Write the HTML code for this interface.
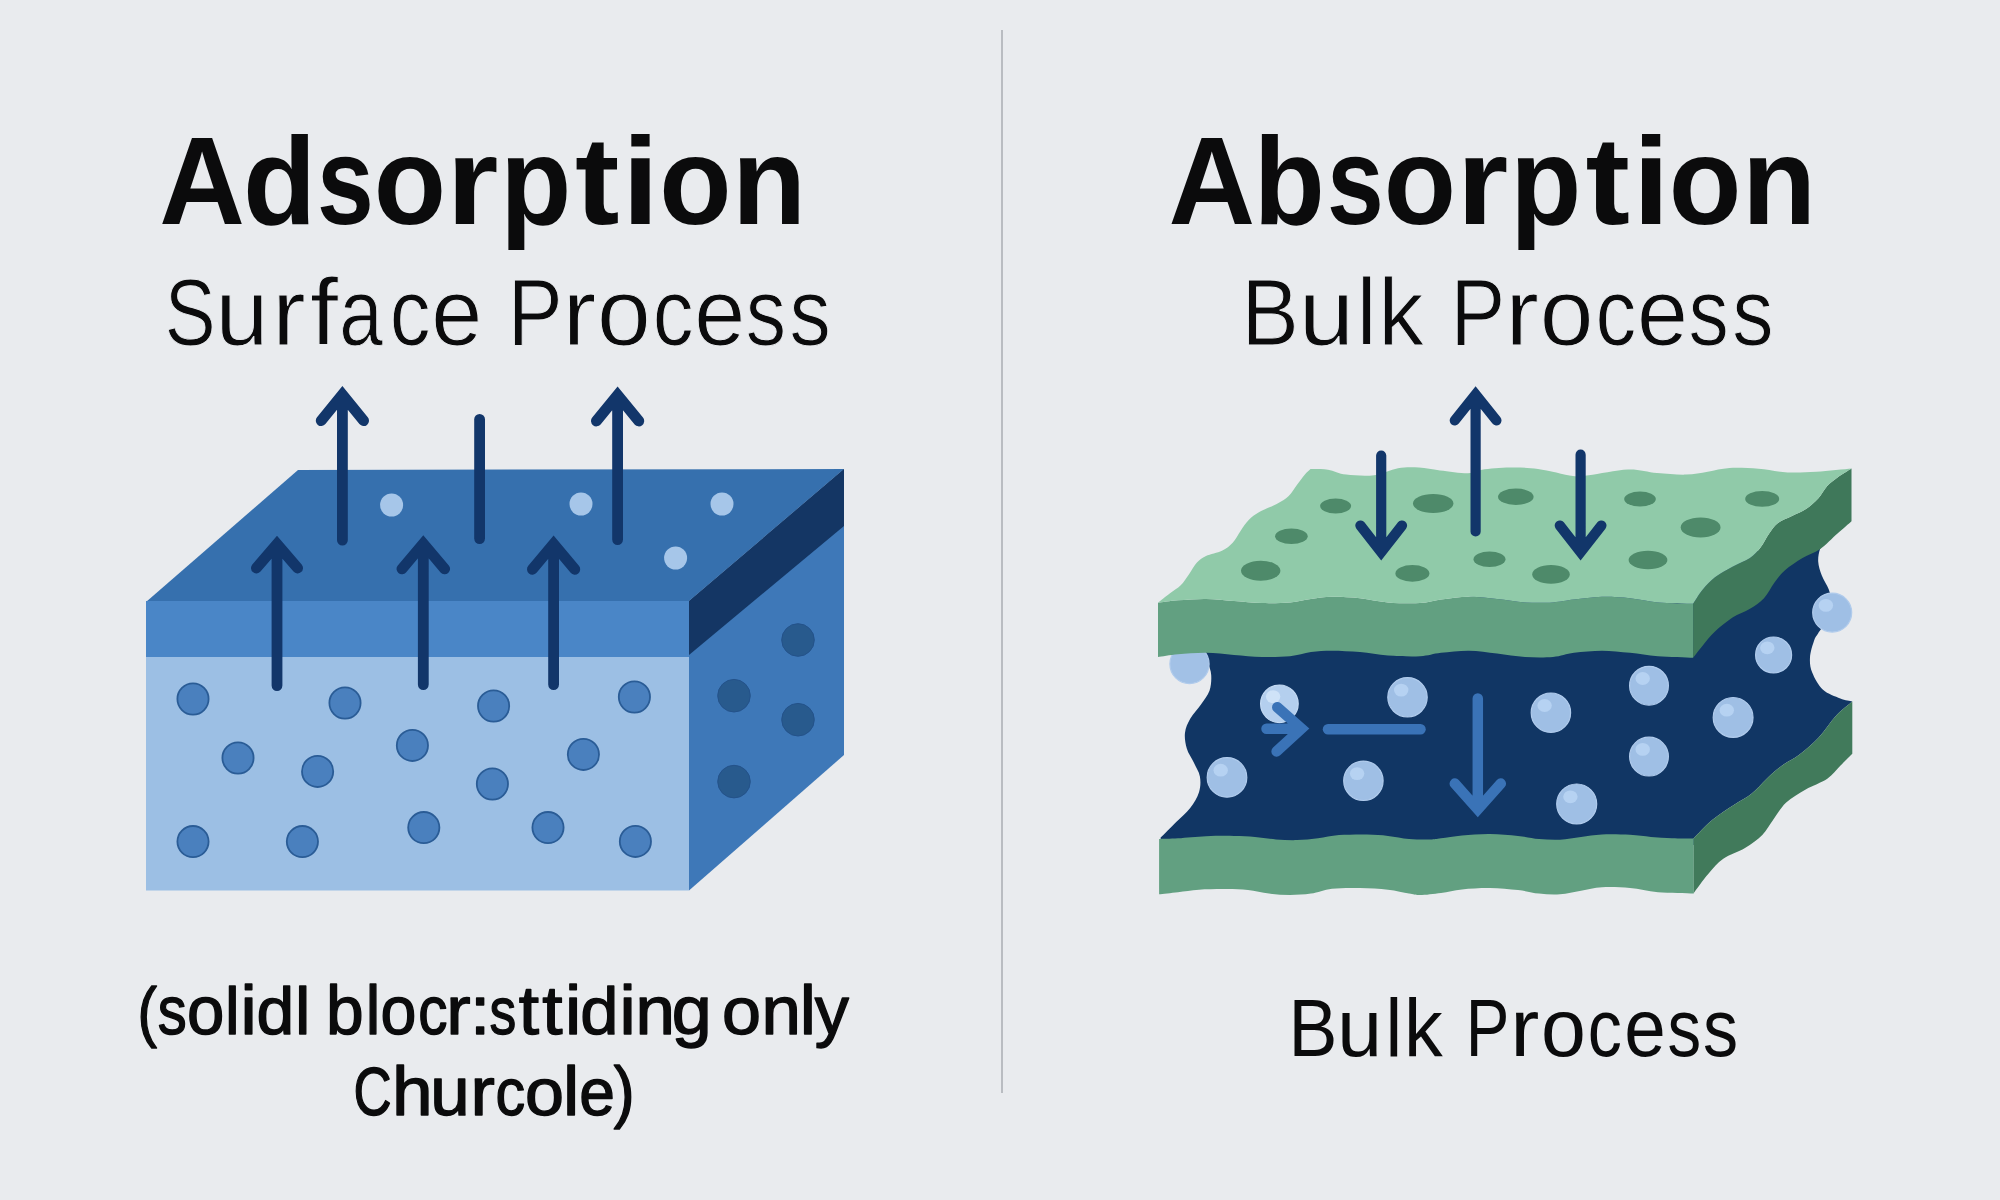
<!DOCTYPE html>
<html><head><meta charset="utf-8"><title>Adsorption vs Absorption</title>
<style>
html,body{margin:0;padding:0;background:#e9ebee;}
body{width:2000px;height:1200px;overflow:hidden;font-family:"Liberation Sans",sans-serif;}
svg{display:block;}
text{font-family:"Liberation Sans",sans-serif;fill:#0b0b0c;}
</style></head>
<body>
<svg width="2000" height="1200" viewBox="0 0 2000 1200">
<rect width="2000" height="1200" fill="#e9ebee"/>
<!-- divider -->
<rect x="1001" y="30" width="2" height="1063" fill="#b9bcc1"/>

<!-- titles -->
<g font-size="123.5" font-weight="bold">
<text transform="translate(159.29,224) scale(0.961,1)">A</text>
<text transform="translate(243.08,224) scale(0.971,1)">d</text>
<text transform="translate(317.01,224) scale(0.827,1)">s</text>
<text transform="translate(373.78,224) scale(0.958,1)">o</text>
<text transform="translate(446.61,224) scale(1.080,1)">r</text>
<text transform="translate(500.33,224) scale(0.942,1)">p</text>
<text transform="translate(575.04,224) scale(1.080,1)">t</text>
<text transform="translate(622.11,224) scale(1.080,1)">i</text>
<text transform="translate(659.13,224) scale(0.958,1)">o</text>
<text transform="translate(731.90,224) scale(0.983,1)">n</text>
<text transform="translate(1168.41,224) scale(0.972,1)">A</text>
<text transform="translate(1253.83,224) scale(0.942,1)">b</text>
<text transform="translate(1327.01,224) scale(0.827,1)">s</text>
<text transform="translate(1383.78,224) scale(0.958,1)">o</text>
<text transform="translate(1456.67,224) scale(1.072,1)">r</text>
<text transform="translate(1510.33,224) scale(0.942,1)">p</text>
<text transform="translate(1585.49,224) scale(1.080,1)">t</text>
<text transform="translate(1632.64,224) scale(1.074,1)">i</text>
<text transform="translate(1668.75,224) scale(0.963,1)">o</text>
<text transform="translate(1741.90,224) scale(0.983,1)">n</text>
</g>
<g font-size="93.7" stroke="#e9ebee" stroke-width="1">
<text transform="translate(164.79,344.6) scale(0.813,1)">S</text>
<text transform="translate(215.42,344.6) scale(1.015,1)">u</text>
<text transform="translate(271.88,344.6) scale(1.080,1)">r</text>
<text transform="translate(310.10,344.6) scale(1.080,1)">f</text>
<text transform="translate(339.17,344.6) scale(0.836,1)">a</text>
<text transform="translate(389.64,344.6) scale(0.870,1)">c</text>
<text transform="translate(431.21,344.6) scale(0.978,1)">e</text>
<text transform="translate(507.64,344.6) scale(0.879,1)">P</text>
<text transform="translate(562.46,344.6) scale(1.080,1)">r</text>
<text transform="translate(596.94,344.6) scale(1.031,1)">o</text>
<text transform="translate(652.64,344.6) scale(0.870,1)">c</text>
<text transform="translate(694.21,344.6) scale(0.978,1)">e</text>
<text transform="translate(745.76,344.6) scale(0.859,1)">s</text>
<text transform="translate(789.45,344.6) scale(0.881,1)">s</text>
<text transform="translate(1241.54,344.6) scale(0.918,1)">B</text>
<text transform="translate(1298.83,344.6) scale(1.063,1)">u</text>
<text transform="translate(1356.57,344.6) scale(0.971,1)">l</text>
<text transform="translate(1378.27,344.6) scale(0.971,1)">k</text>
<text transform="translate(1450.46,344.6) scale(0.876,1)">P</text>
<text transform="translate(1505.26,344.6) scale(1.080,1)">r</text>
<text transform="translate(1539.74,344.6) scale(1.031,1)">o</text>
<text transform="translate(1595.44,344.6) scale(0.870,1)">c</text>
<text transform="translate(1637.01,344.6) scale(0.978,1)">e</text>
<text transform="translate(1688.56,344.6) scale(0.859,1)">s</text>
<text transform="translate(1732.25,344.6) scale(0.881,1)">s</text>
</g>
<g font-size="80.8">
<text transform="translate(1288.59,1055.6) scale(0.907,1)">B</text>
<text transform="translate(1337.37,1055.6) scale(0.996,1)">u</text>
<text transform="translate(1385.54,1055.6) scale(0.929,1)">l</text>
<text transform="translate(1403.98,1055.6) scale(0.958,1)">k</text>
<text transform="translate(1465.64,1055.6) scale(0.809,1)">P</text>
<text transform="translate(1510.17,1055.6) scale(1.080,1)">r</text>
<text transform="translate(1541.01,1055.6) scale(0.999,1)">o</text>
<text transform="translate(1587.70,1055.6) scale(0.844,1)">c</text>
<text transform="translate(1624.33,1055.6) scale(0.923,1)">e</text>
<text transform="translate(1667.53,1055.6) scale(0.833,1)">s</text>
<text transform="translate(1703.05,1055.6) scale(0.869,1)">s</text>
</g>
<g font-size="67.6" stroke="#0b0b0c" stroke-width="1.4" stroke-linejoin="round">
<text transform="translate(137.47,1034) scale(0.865,1)">(</text>
<text transform="translate(157.69,1034) scale(0.857,1)">s</text>
<text transform="translate(187.08,1034) scale(0.993,1)">o</text>
<text transform="translate(225.05,1034) scale(0.976,1)">l</text>
<text transform="translate(240.41,1034) scale(1.080,1)">i</text>
<text transform="translate(256.55,1034) scale(1.003,1)">d</text>
<text transform="translate(295.02,1034) scale(1.027,1)">l</text>
<text transform="translate(326.09,1034) scale(1.002,1)">b</text>
<text transform="translate(365.69,1034) scale(0.968,1)">l</text>
<text transform="translate(380.39,1034) scale(0.954,1)">o</text>
<text transform="translate(418.31,1034) scale(0.866,1)">c</text>
<text transform="translate(446.13,1034) scale(1.080,1)">r</text>
<text transform="translate(470.11,1034) scale(1.080,1)">:</text>
<text transform="translate(489.51,1034) scale(0.790,1)">s</text>
<text transform="translate(518.87,1034) scale(1.080,1)">t</text>
<text transform="translate(542.27,1034) scale(1.080,1)">t</text>
<text transform="translate(565.06,1034) scale(1.080,1)">i</text>
<text transform="translate(580.32,1034) scale(1.015,1)">d</text>
<text transform="translate(619.41,1034) scale(1.080,1)">i</text>
<text transform="translate(635.49,1034) scale(1.048,1)">n</text>
<text transform="translate(671.68,1034) scale(1.064,1)">g</text>
<text transform="translate(722.01,1034) scale(1.037,1)">o</text>
<text transform="translate(761.49,1034) scale(1.048,1)">n</text>
<text transform="translate(799.75,1034) scale(1.080,1)">l</text>
<text transform="translate(814.78,1034) scale(1.010,1)">y</text>
<text transform="translate(353.38,1115) scale(0.780,1)">C</text>
<text transform="translate(392.04,1115) scale(1.080,1)">h</text>
<text transform="translate(430.35,1115) scale(1.048,1)">u</text>
<text transform="translate(470.53,1115) scale(1.080,1)">r</text>
<text transform="translate(495.43,1115) scale(0.878,1)">c</text>
<text transform="translate(525.01,1115) scale(1.037,1)">o</text>
<text transform="translate(563.00,1115) scale(1.080,1)">l</text>
<text transform="translate(579.23,1115) scale(0.949,1)">e</text>
<text transform="translate(613.83,1115) scale(0.926,1)">)</text>
</g>

<!-- LEFT BLOCK -->
<g id="leftblock">
<polygon points="146,602 298,470 844,469 689,601" fill="#3670ae"/>
<rect x="146" y="601" width="543" height="56" fill="#4a86c7"/>
<rect x="146" y="657" width="543" height="233.5" fill="#9cbfe4"/>
<polygon points="689,601 844,469 844,755 689,890.5" fill="#3e78b8"/>
<polygon points="689,601 844,469 844,526 689,655" fill="#143664"/>
<circle cx="193" cy="699" r="15.6" fill="#4a80be" stroke="#2a5c96" stroke-width="1.8"/>
<circle cx="345" cy="703" r="15.6" fill="#4a80be" stroke="#2a5c96" stroke-width="1.8"/>
<circle cx="493.6" cy="706" r="15.6" fill="#4a80be" stroke="#2a5c96" stroke-width="1.8"/>
<circle cx="634.4" cy="697" r="15.6" fill="#4a80be" stroke="#2a5c96" stroke-width="1.8"/>
<circle cx="238" cy="758" r="15.6" fill="#4a80be" stroke="#2a5c96" stroke-width="1.8"/>
<circle cx="317.6" cy="771.4" r="15.6" fill="#4a80be" stroke="#2a5c96" stroke-width="1.8"/>
<circle cx="412.4" cy="745.4" r="15.6" fill="#4a80be" stroke="#2a5c96" stroke-width="1.8"/>
<circle cx="583.4" cy="754.4" r="15.6" fill="#4a80be" stroke="#2a5c96" stroke-width="1.8"/>
<circle cx="492.4" cy="784" r="15.6" fill="#4a80be" stroke="#2a5c96" stroke-width="1.8"/>
<circle cx="193" cy="841.6" r="15.6" fill="#4a80be" stroke="#2a5c96" stroke-width="1.8"/>
<circle cx="302.4" cy="841.6" r="15.6" fill="#4a80be" stroke="#2a5c96" stroke-width="1.8"/>
<circle cx="423.8" cy="827.6" r="15.6" fill="#4a80be" stroke="#2a5c96" stroke-width="1.8"/>
<circle cx="548" cy="827.6" r="15.6" fill="#4a80be" stroke="#2a5c96" stroke-width="1.8"/>
<circle cx="635.4" cy="841.4" r="15.6" fill="#4a80be" stroke="#2a5c96" stroke-width="1.8"/>
<circle cx="798" cy="640" r="16.3" fill="#285a8d" stroke="#24528a" stroke-width="1"/>
<circle cx="734" cy="695.7" r="16.3" fill="#285a8d" stroke="#24528a" stroke-width="1"/>
<circle cx="798" cy="719.7" r="16.3" fill="#285a8d" stroke="#24528a" stroke-width="1"/>
<circle cx="734" cy="781.6" r="16.3" fill="#285a8d" stroke="#24528a" stroke-width="1"/>
<circle cx="391.6" cy="505" r="11.5" fill="#a6c6e9"/>
<circle cx="581" cy="504" r="11.5" fill="#a6c6e9"/>
<circle cx="722" cy="504" r="11.5" fill="#a6c6e9"/>
<circle cx="675.6" cy="558" r="11.5" fill="#a6c6e9"/>
<g fill="none" stroke="#12366a" stroke-width="10.8" stroke-linecap="round" stroke-linejoin="miter"><path d="M321.2,420.7 L342.4,394.6 L363.6,420.7 M342.4,396.6 L342.4,540.2"/><path d="M479.6,419.4 L479.6,538.6"/><path d="M256.4,568.0 L277.0,544.1 L297.6,568.0 M277.0,546.1 L277.0,685.6"/><path d="M401.9,568.9 L423.3,543.6 L444.7,568.9 M423.3,545.6 L423.3,684.6"/><path d="M532.4,569.3 L553.6,544.0 L574.8,569.3 M553.6,546.0 L553.6,684.6"/><path d="M596.4,421.0 L617.6,395.0 L638.8,421.0 M617.6,397.0 L617.6,539.6"/></g>
</g>
<g id="rightblock">
<path d="M1202.5,650.0 C1203.4,652.1 1206.3,658.6 1207.8,662.8 C1209.2,666.9 1211.0,670.3 1211.2,675.0 C1211.5,679.7 1211.2,685.8 1209.5,690.8 C1207.8,695.7 1204.0,700.1 1200.8,704.8 C1197.5,709.4 1192.9,714.1 1190.2,718.8 C1187.6,723.4 1185.6,727.8 1185.0,732.8 C1184.4,737.7 1185.3,743.5 1186.8,748.5 C1188.2,753.5 1191.6,757.8 1193.8,762.5 C1195.9,767.2 1199.0,771.5 1199.9,776.5 C1200.8,781.5 1200.6,787.0 1199.0,792.2 C1197.4,797.5 1194.0,803.0 1190.2,808.0 C1186.5,813.0 1181.2,817.0 1176.2,822.0 C1171.3,827.0 1163.1,835.1 1160.5,837.8 L1162,845 L1700,845 L1693.4,838.6 C1696.6,835.5 1705.7,825.4 1712.5,819.8 C1719.3,814.1 1727.7,809.0 1734.2,804.7 C1740.7,800.4 1746.1,798.1 1751.5,793.8 C1756.9,789.5 1761.7,783.4 1766.7,778.7 C1771.8,774.0 1776.4,769.7 1781.8,765.7 C1787.2,761.7 1793.0,759.5 1799.2,754.8 C1805.4,750.1 1812.6,744.0 1818.7,737.5 C1824.8,731.0 1830.4,721.8 1836.0,715.8 C1841.6,709.8 1849.6,703.9 1852.3,701.5 L1852.3,701.5 C1850.3,701.0 1845.2,700.5 1840.3,698.5 C1835.4,696.5 1827.7,694.1 1823.0,689.8 C1818.3,685.5 1814.4,677.9 1812.2,672.5 C1810.0,667.1 1809.7,662.7 1810.0,657.3 C1810.3,651.9 1812.9,644.0 1814.3,640.0 C1815.7,636.0 1816.5,636.2 1818.2,633.2 C1820.0,630.2 1823.0,627.5 1825.0,622.0 C1827.0,616.5 1829.4,605.4 1830.0,600.0 C1830.6,594.6 1830.1,593.6 1828.8,589.5 C1827.4,585.4 1823.5,580.2 1821.8,575.5 C1820.0,570.8 1818.5,565.9 1818.2,561.5 C1818.0,557.1 1818.7,552.8 1820.0,549.2 C1821.3,545.7 1825.0,541.5 1826.0,540.0 L1700,560 L1200,640 Z" fill="#113664"/>
<g><circle cx="1189.5" cy="664" r="19.6" fill="#a2c1e6" stroke="#b0cbec" stroke-width="1.2"/><circle cx="1279.4" cy="703.8" r="18.8" fill="#b4cfee" stroke="#c4daf3" stroke-width="1.2"/><ellipse cx="1273.1000000000001" cy="696.5999999999999" rx="7.2" ry="6.4" fill="#cfe3f8"/><circle cx="1407.5" cy="697.3" r="19.7" fill="#9fbfe5" stroke="#b0cbec" stroke-width="1.2"/><ellipse cx="1401.2" cy="690.0999999999999" rx="7.2" ry="6.4" fill="#b6d2f2"/><circle cx="1227" cy="777.4" r="19.8" fill="#9fbfe5" stroke="#b0cbec" stroke-width="1.2"/><ellipse cx="1220.7" cy="770.1999999999999" rx="7.2" ry="6.4" fill="#b6d2f2"/><circle cx="1363.4" cy="780.8" r="19.7" fill="#9fbfe5" stroke="#b0cbec" stroke-width="1.2"/><ellipse cx="1357.1000000000001" cy="773.5999999999999" rx="7.2" ry="6.4" fill="#b6d2f2"/><circle cx="1550.9" cy="712.7" r="19.7" fill="#9fbfe5" stroke="#b0cbec" stroke-width="1.2"/><ellipse cx="1544.6000000000001" cy="705.5" rx="7.2" ry="6.4" fill="#b6d2f2"/><circle cx="1649" cy="685.7" r="19.4" fill="#9fbfe5" stroke="#b0cbec" stroke-width="1.2"/><ellipse cx="1642.7" cy="678.5" rx="7.2" ry="6.4" fill="#b6d2f2"/><circle cx="1649" cy="756.6" r="19.4" fill="#9fbfe5" stroke="#b0cbec" stroke-width="1.2"/><ellipse cx="1642.7" cy="749.4" rx="7.2" ry="6.4" fill="#b6d2f2"/><circle cx="1576.7" cy="804" r="20.0" fill="#9fbfe5" stroke="#b0cbec" stroke-width="1.2"/><ellipse cx="1570.4" cy="796.8" rx="7.2" ry="6.4" fill="#b6d2f2"/><circle cx="1733.1" cy="717.4" r="19.9" fill="#9fbfe5" stroke="#b0cbec" stroke-width="1.2"/><ellipse cx="1726.8" cy="710.1999999999999" rx="7.2" ry="6.4" fill="#b6d2f2"/><circle cx="1773.6" cy="655" r="18.0" fill="#9fbfe5" stroke="#b0cbec" stroke-width="1.2"/><ellipse cx="1767.3" cy="647.8" rx="7.2" ry="6.4" fill="#b6d2f2"/><circle cx="1832.2" cy="612.6" r="19.5" fill="#9fbfe5" stroke="#b0cbec" stroke-width="1.2"/><ellipse cx="1825.9" cy="605.4" rx="7.2" ry="6.4" fill="#b6d2f2"/></g>
<path d="M1851.5,468.5 C1849.2,470.0 1841.6,474.5 1837.5,477.5 C1833.4,480.5 1830.2,482.8 1827.0,486.2 C1823.8,489.8 1821.8,494.7 1818.2,498.5 C1814.8,502.3 1810.4,506.1 1806.0,509.0 C1801.6,511.9 1796.7,513.7 1792.0,516.0 C1787.3,518.3 1781.8,520.1 1778.0,523.0 C1774.2,525.9 1772.2,529.4 1769.2,533.5 C1766.3,537.6 1763.7,543.4 1760.5,547.5 C1757.3,551.6 1754.7,554.8 1750.0,558.0 C1745.3,561.2 1738.3,563.5 1732.5,566.8 C1726.7,570.0 1720.0,573.5 1715.0,577.2 C1710.0,581.0 1706.4,585.1 1702.8,589.5 C1699.1,593.9 1694.7,601.4 1693.1,603.8 L1693.1,657.8 L1693.1,657.8 C1694.7,655.8 1699.1,649.9 1702.8,645.5 C1706.4,641.1 1710.0,636.2 1715.0,631.5 C1720.0,626.8 1726.7,621.3 1732.5,617.5 C1738.3,613.7 1744.8,612.0 1750.0,608.8 C1755.2,605.5 1759.9,602.6 1764.0,598.2 C1768.1,593.9 1771.0,587.2 1774.5,582.5 C1778.0,577.8 1780.3,574.3 1785.0,570.2 C1789.7,566.2 1796.7,561.5 1802.5,558.0 C1808.3,554.5 1814.2,553.3 1820.0,549.2 C1825.8,545.2 1832.2,538.2 1837.5,533.5 C1842.8,528.8 1849.2,523.3 1851.5,521.2 Z" fill="#3f785a"/>
<path d="M1158.0,602.8 C1161.3,602.4 1170.0,600.9 1178.0,600.3 C1186.0,599.6 1196.7,598.8 1206.0,598.9 C1215.3,599.0 1224.7,600.3 1234.0,601.0 C1243.3,601.7 1252.7,602.9 1262.0,603.1 C1271.3,603.3 1281.8,603.1 1290.0,602.4 C1298.2,601.7 1304.0,599.8 1311.0,598.9 C1318.0,598.0 1323.8,596.9 1332.0,596.8 C1340.2,596.7 1350.7,597.3 1360.0,598.2 C1369.3,599.1 1378.0,601.6 1388.0,602.4 C1398.0,603.2 1411.2,603.6 1420.0,603.1 C1428.8,602.6 1432.8,600.7 1441.0,599.6 C1449.2,598.5 1459.7,596.9 1469.0,596.8 C1478.3,596.7 1487.7,598.0 1497.0,598.9 C1506.3,599.8 1515.7,601.8 1525.0,602.4 C1534.3,603.0 1544.8,602.9 1553.0,602.4 C1561.2,601.9 1565.8,600.5 1574.0,599.6 C1582.2,598.7 1592.7,597.0 1602.0,596.8 C1611.3,596.6 1620.7,597.3 1630.0,598.2 C1639.3,599.1 1647.5,601.5 1658.0,602.4 C1668.5,603.3 1687.2,603.6 1693.1,603.8 L1693.1,657.8 L1693.1,657.8 C1687.2,657.5 1668.5,657.1 1658.0,656.3 C1647.5,655.5 1639.3,653.7 1630.0,652.8 C1620.7,651.9 1611.3,650.7 1602.0,650.7 C1592.7,650.7 1582.2,651.8 1574.0,652.8 C1565.8,653.8 1561.2,656.3 1553.0,657.0 C1544.8,657.7 1534.3,657.6 1525.0,657.0 C1515.7,656.4 1506.3,654.5 1497.0,653.5 C1487.7,652.5 1478.3,650.8 1469.0,650.7 C1459.7,650.6 1449.2,651.9 1441.0,652.8 C1432.8,653.7 1428.8,655.8 1420.0,656.3 C1411.2,656.8 1398.0,656.3 1388.0,655.6 C1378.0,654.9 1369.3,652.9 1360.0,652.1 C1350.7,651.3 1340.2,650.7 1332.0,650.7 C1323.8,650.7 1318.0,651.2 1311.0,652.1 C1304.0,653.0 1298.2,655.5 1290.0,656.3 C1281.8,657.1 1271.3,657.2 1262.0,657.0 C1252.7,656.8 1243.3,655.6 1234.0,654.9 C1224.7,654.2 1215.3,652.9 1206.0,652.8 C1196.7,652.7 1186.0,653.5 1178.0,654.2 C1170.0,654.9 1161.3,656.5 1158.0,657.0 Z" fill="#62a081"/>
<path d="M1158.0,602.8 C1160.0,601.2 1166.2,596.2 1170.0,593.3 C1173.8,590.4 1177.6,588.4 1180.7,585.3 C1183.8,582.2 1186.0,578.5 1188.7,574.7 C1191.4,570.9 1193.8,565.8 1196.7,562.7 C1199.6,559.6 1201.8,558.0 1206.0,556.0 C1210.2,554.0 1217.5,552.9 1222.0,550.7 C1226.5,548.5 1229.6,546.0 1232.7,542.7 C1235.8,539.4 1238.0,534.5 1240.7,530.7 C1243.4,526.9 1245.6,523.1 1248.7,520.0 C1251.8,516.9 1254.6,514.7 1259.3,512.0 C1264.0,509.3 1271.8,506.7 1276.7,504.0 C1281.6,501.3 1285.4,499.1 1288.7,496.0 C1292.0,492.9 1294.0,488.9 1296.7,485.3 C1299.4,481.8 1302.4,477.4 1304.7,474.7 C1307.0,472.0 1309.5,469.9 1310.5,469.0 L1310.5,469.0 C1313.4,469.1 1322.0,468.8 1328.0,469.7 C1334.0,470.6 1338.5,473.7 1346.2,474.6 C1353.9,475.5 1365.6,476.4 1374.2,475.3 C1382.8,474.2 1390.5,469.6 1398.0,468.3 C1405.5,467.0 1412.0,467.2 1419.0,467.6 C1426.0,468.0 1431.8,469.5 1440.0,470.4 C1448.2,471.3 1461.0,473.3 1468.0,473.2 C1475.0,473.1 1475.0,470.6 1482.0,469.7 C1489.0,468.8 1500.7,467.7 1510.0,467.6 C1519.3,467.5 1527.5,467.6 1538.0,469.0 C1548.5,470.4 1564.5,474.9 1573.0,476.0 C1581.5,477.1 1579.6,476.4 1588.8,475.3 C1598.0,474.2 1616.6,469.9 1628.0,469.5 C1639.4,469.1 1647.3,472.2 1657.0,473.1 C1666.7,474.0 1677.5,474.8 1686.0,474.6 C1694.5,474.4 1700.5,472.8 1707.7,471.7 C1715.0,470.6 1721.0,468.5 1729.5,468.0 C1738.0,467.5 1748.8,468.1 1758.5,468.8 C1768.2,469.5 1777.8,471.9 1787.5,472.4 C1797.2,472.9 1805.8,472.3 1816.5,471.7 C1827.2,471.1 1845.7,469.0 1851.5,468.5 L1851.5,468.5 C1849.2,470.0 1841.6,474.5 1837.5,477.5 C1833.4,480.5 1830.2,482.8 1827.0,486.2 C1823.8,489.8 1821.8,494.7 1818.2,498.5 C1814.8,502.3 1810.4,506.1 1806.0,509.0 C1801.6,511.9 1796.7,513.7 1792.0,516.0 C1787.3,518.3 1781.8,520.1 1778.0,523.0 C1774.2,525.9 1772.2,529.4 1769.2,533.5 C1766.3,537.6 1763.7,543.4 1760.5,547.5 C1757.3,551.6 1754.7,554.8 1750.0,558.0 C1745.3,561.2 1738.3,563.5 1732.5,566.8 C1726.7,570.0 1720.0,573.5 1715.0,577.2 C1710.0,581.0 1706.4,585.1 1702.8,589.5 C1699.1,593.9 1694.7,601.4 1693.1,603.8 L1693.1,603.8 C1687.2,603.6 1668.5,603.3 1658.0,602.4 C1647.5,601.5 1639.3,599.1 1630.0,598.2 C1620.7,597.3 1611.3,596.6 1602.0,596.8 C1592.7,597.0 1582.2,598.7 1574.0,599.6 C1565.8,600.5 1561.2,601.9 1553.0,602.4 C1544.8,602.9 1534.3,603.0 1525.0,602.4 C1515.7,601.8 1506.3,599.8 1497.0,598.9 C1487.7,598.0 1478.3,596.7 1469.0,596.8 C1459.7,596.9 1449.2,598.5 1441.0,599.6 C1432.8,600.7 1428.8,602.6 1420.0,603.1 C1411.2,603.6 1398.0,603.2 1388.0,602.4 C1378.0,601.6 1369.3,599.1 1360.0,598.2 C1350.7,597.3 1340.2,596.7 1332.0,596.8 C1323.8,596.9 1318.0,598.0 1311.0,598.9 C1304.0,599.8 1298.2,601.7 1290.0,602.4 C1281.8,603.1 1271.3,603.3 1262.0,603.1 C1252.7,602.9 1243.3,601.7 1234.0,601.0 C1224.7,600.3 1215.3,599.0 1206.0,598.9 C1196.7,598.8 1186.0,599.6 1178.0,600.3 C1170.0,600.9 1161.3,602.4 1158.0,602.8 Z" fill="#90caa9"/>
<g fill="#4e8a6a"><ellipse cx="1335.6" cy="506" rx="15.5" ry="7.6"/><ellipse cx="1291.4" cy="536.3" rx="16.3" ry="7.8"/><ellipse cx="1260.7" cy="570.7" rx="19.7" ry="10"/><ellipse cx="1433.2" cy="503.5" rx="20.2" ry="9.5"/><ellipse cx="1515.8" cy="496.8" rx="17.8" ry="8.2"/><ellipse cx="1412.4" cy="573.4" rx="17" ry="8.3"/><ellipse cx="1489.5" cy="559.3" rx="16" ry="7.8"/><ellipse cx="1551" cy="574.4" rx="18.8" ry="9.3"/><ellipse cx="1640" cy="499" rx="15.8" ry="7.6"/><ellipse cx="1700.6" cy="527.4" rx="19.9" ry="10"/><ellipse cx="1648" cy="560" rx="19.4" ry="9.2"/><ellipse cx="1762.2" cy="498.9" rx="17" ry="7.9"/></g>
<path d="M1693.4,838.6 C1696.6,835.5 1705.7,825.4 1712.5,819.8 C1719.3,814.1 1727.7,809.0 1734.2,804.7 C1740.7,800.4 1746.1,798.1 1751.5,793.8 C1756.9,789.5 1761.7,783.4 1766.7,778.7 C1771.8,774.0 1776.4,769.7 1781.8,765.7 C1787.2,761.7 1793.0,759.5 1799.2,754.8 C1805.4,750.1 1812.6,744.0 1818.7,737.5 C1824.8,731.0 1830.4,721.8 1836.0,715.8 C1841.6,709.8 1849.6,703.9 1852.3,701.5 L1852.3,753.75 L1852.3,753.8 C1850.3,755.7 1844.5,761.5 1840.3,765.7 C1836.1,769.9 1833.1,774.7 1827.3,778.7 C1821.5,782.7 1812.5,785.5 1805.7,789.5 C1798.9,793.5 1791.6,797.5 1786.2,802.5 C1780.8,807.5 1777.2,814.4 1773.2,819.8 C1769.2,825.2 1767.0,830.3 1762.3,835.0 C1757.6,839.7 1751.5,844.0 1745.0,848.0 C1738.5,852.0 1729.4,854.5 1723.3,858.8 C1717.2,863.1 1713.2,868.2 1708.2,874.0 C1703.2,879.8 1695.9,890.2 1693.4,893.4 Z" fill="#417a5b"/>
<path d="M1159.1,839.0 C1162.2,838.9 1170.2,838.8 1178.0,838.3 C1185.8,837.8 1196.7,836.6 1206.0,836.2 C1215.3,835.8 1225.8,835.8 1234.0,835.9 C1242.2,836.0 1248.0,836.3 1255.0,836.9 C1262.0,837.5 1269.0,838.9 1276.0,839.4 C1283.0,839.9 1290.0,840.3 1297.0,840.1 C1304.0,839.9 1311.0,839.1 1318.0,838.3 C1325.0,837.5 1330.8,835.7 1339.0,835.1 C1347.2,834.5 1358.8,834.4 1367.0,834.5 C1375.2,834.6 1381.0,835.1 1388.0,835.9 C1395.0,836.6 1402.0,838.4 1409.0,839.0 C1416.0,839.6 1424.7,839.6 1430.0,839.5 C1435.3,839.4 1435.7,839.0 1441.0,838.3 C1446.3,837.6 1453.8,836.2 1462.0,835.5 C1470.2,834.8 1480.7,834.0 1490.0,834.1 C1499.3,834.2 1509.8,835.1 1518.0,835.9 C1526.2,836.7 1532.0,838.4 1539.0,839.0 C1546.0,839.6 1553.0,840.1 1560.0,839.7 C1567.0,839.4 1574.0,837.8 1581.0,836.9 C1588.0,836.0 1593.8,834.9 1602.0,834.5 C1610.2,834.1 1621.8,834.4 1630.0,834.8 C1638.2,835.2 1644.0,836.3 1651.0,836.9 C1658.0,837.5 1664.9,838.0 1672.0,838.3 C1679.1,838.6 1690.0,838.5 1693.6,838.6 L1693.6,893.4 C1687.7,893.2 1668.6,893.1 1658.0,892.2 C1647.4,891.3 1639.3,888.8 1630.0,888.0 C1620.7,887.2 1610.2,886.8 1602.0,887.3 C1593.8,887.8 1588.0,889.6 1581.0,890.8 C1574.0,892.0 1567.0,893.8 1560.0,894.3 C1553.0,894.8 1546.0,894.3 1539.0,893.6 C1532.0,892.9 1526.2,891.0 1518.0,890.1 C1509.8,889.2 1499.3,888.1 1490.0,888.0 C1480.7,887.9 1470.2,888.6 1462.0,889.4 C1453.8,890.2 1448.0,892.0 1441.0,892.9 C1434.0,893.8 1425.3,894.9 1420.0,895.0 C1414.7,895.1 1414.3,894.5 1409.0,893.6 C1403.7,892.7 1396.2,890.6 1388.0,889.7 C1379.8,888.8 1369.3,888.2 1360.0,888.0 C1350.7,887.8 1340.2,887.8 1332.0,888.7 C1323.8,889.6 1318.0,892.6 1311.0,893.6 C1304.0,894.6 1297.0,895.0 1290.0,895.0 C1283.0,895.0 1276.0,894.4 1269.0,893.6 C1262.0,892.8 1255.0,890.9 1248.0,890.1 C1241.0,889.4 1235.2,889.2 1227.0,889.1 C1218.8,889.0 1207.2,889.2 1199.0,889.7 C1190.8,890.2 1184.7,891.4 1178.0,892.2 C1171.3,893.0 1162.2,893.9 1159.1,894.3 Z" fill="#62a081"/>
<g fill="none" stroke="#12366a" stroke-width="10.2" stroke-linecap="round" stroke-linejoin="miter"><path d="M1360.4,525.5 L1381.2,552.2 L1402.0,525.5 M1381.2,455.6 L1381.2,550.2"/><path d="M1454.8,420.4 L1475.6,394.4 L1496.4,420.4 M1475.6,396.4 L1475.6,531.4"/><path d="M1559.8,525.5 L1580.6,552.2 L1601.4,525.5 M1580.6,454.7 L1580.6,550.2"/></g>
<g fill="none" stroke="#3a73b7" stroke-width="10.5" stroke-linecap="round" stroke-linejoin="miter"><path d="M1277.3,707.3 L1301.5,728.6 L1276.6,751.4 M1266.5,728.8 L1299,728.8"/><path d="M1328,729.3 L1420.5,729.3"/><path d="M1454.8,783.6 L1477.8,809.4 L1500.8,783.6 M1477.8,698.5 L1477.8,807.4"/></g>
</g><!--/right-->
</svg>
</body></html>
